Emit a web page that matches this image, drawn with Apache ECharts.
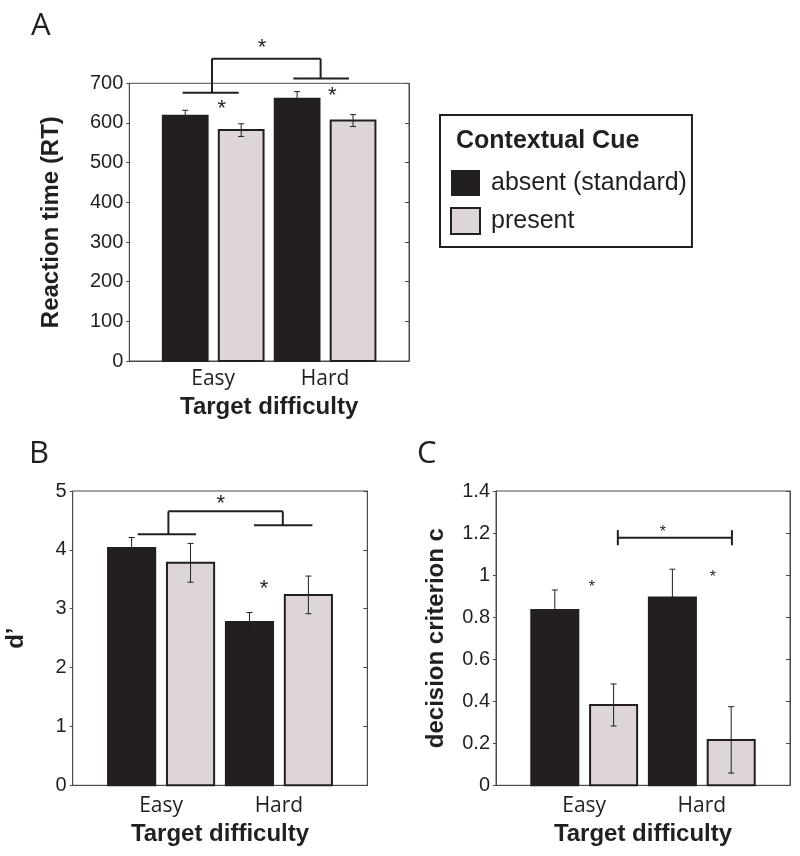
<!DOCTYPE html>
<html><head><meta charset="utf-8">
<script src="https://cdn.jsdelivr.net/npm/echarts@6/dist/echarts.min.js"></script>
<style>html,body{margin:0;padding:0;background:#fff}#c{width:800px;height:856px}</style>
</head><body><div id="c"></div>
<script>
// ---------- data ----------
const categories = ['Easy', 'Hard'];
const seriesNames = ['absent (standard)', 'present'];
const legendTitle = 'Contextual Cue';
const xAxisTitle = 'Target difficulty';

// Panel A: reaction time
const rtTicks = [0, 100, 200, 300, 400, 500, 600, 700];
const rtAbsent = [618, 661];
const rtAbsentErr = [14, 18];
const rtPresent = [582, 606];
const rtPresentErr = [16, 15];
const rtSigLines = [[0.727, 676, 1.228, 676], [1.716, 712, 2.213, 712], [0.989, 676, 0.989, 762], [0.989, 762, 1.960, 762], [1.960, 762, 1.960, 712]];
const rtSigStars = [[1.436, 801], [1.076, 648], [2.064, 681]];

// Panel B: d'
const dTicks = [0, 1, 2, 3, 4, 5];
const dAbsent = [4.03, 2.775];
const dAbsentErr = [0.18, 0.16];
const dPresent = [3.78, 3.235];
const dPresentErr = [0.33, 0.32];
const dSigLines = [[0.802, 4.264, 1.297, 4.264], [1.789, 4.42, 2.284, 4.42], [1.062, 4.264, 1.062, 4.654], [1.062, 4.654, 2.033, 4.654], [2.033, 4.654, 2.033, 4.42]];
const dSigStars = [[1.506, 4.858], [1.874, 3.419]];

// Panel C: decision criterion c
const cTicks = [0, 0.2, 0.4, 0.6, 0.8, 1.0, 1.2, 1.4];
const cAbsent = [0.834, 0.893];
const cAbsentErr = [0.095, 0.135];
const cPresent = [0.382, 0.216];
const cPresentErr = [0.10, 0.158];
const cSigLines = [[1.286, 1.178, 2.256, 1.178], [1.286, 1.142, 1.286, 1.214], [2.256, 1.142, 2.256, 1.214]];
const cSigStars = [[1.668, 1.218], [1.066, 0.958], [2.095, 1.005]];

// ---------- style / layout ----------
const INK = '#231f20';
const GRAY = '#ddd5d6';
const AXIS = '#4a4a4a';
const BAR_HALF = 0.2;
const OFFSETS = [-0.25, 0.25];
const FILLS = [INK, GRAY];
const TICK_FONT = 'Liberation Sans';
const CAT_FONT = 'Open Sans';

const grids = [
  { left: 129.3, top: 83.3, width: 279.7, height: 277.7 },
  { left: 72.7, top: 491, width: 294.6, height: 294.3 },
  { left: 496, top: 491, width: 294, height: 294.3 }
];
const yNames = ['Reaction time (RT)', 'd\u2019', 'decision criterion c'];
const yNameGaps = [66, 44, 48];
const xNameGaps = [34, 37, 37];
const xLabelMargins = [8, 10, 10];
const tickSets = [rtTicks, dTicks, cTicks];
const starSizes = [22, 22, 16];

function toRows(vals, errs) { return vals.map((v, i) => [i + 1, v, errs[i]]); }

function barRenderer(k) {
  return function (params, api) {
    const xc = api.value(0) + OFFSETS[k];
    const v = api.value(1), e = api.value(2);
    const tl = api.coord([xc - BAR_HALF, v]);
    const br = api.coord([xc + BAR_HALF, 0]);
    const et = api.coord([xc, v + e]);
    const eb = api.coord([xc, v - e]);
    const cap = 3;
    return {
      type: 'group', children: [
        { type: 'rect', shape: { x: tl[0], y: tl[1], width: br[0] - tl[0], height: br[1] - tl[1] },
          style: { fill: FILLS[k], stroke: INK, lineWidth: 2 } },
        { type: 'line', shape: { x1: et[0], y1: et[1], x2: eb[0], y2: eb[1] }, style: { stroke: INK, lineWidth: 1 } },
        { type: 'line', shape: { x1: et[0] - cap, y1: et[1], x2: et[0] + cap, y2: et[1] }, style: { stroke: INK, lineWidth: 1 } },
        { type: 'line', shape: { x1: eb[0] - cap, y1: eb[1], x2: eb[0] + cap, y2: eb[1] }, style: { stroke: INK, lineWidth: 1 } }
      ]
    };
  };
}
function lineRenderer(params, api) {
  const a = api.coord([api.value(0), api.value(1)]);
  const b = api.coord([api.value(2), api.value(3)]);
  return { type: 'line', shape: { x1: a[0], y1: a[1], x2: b[0], y2: b[1] }, style: { stroke: INK, lineWidth: 2 } };
}
function starRenderer(size) {
  return function (params, api) {
    const p = api.coord([api.value(0), api.value(1)]);
    return { type: 'text', x: p[0], y: p[1] + size * 0.22,
      style: { text: '*', fill: INK, font: size + 'px "Liberation Sans"', align: 'center', verticalAlign: 'middle' } };
  };
}

const panelData = [
  [toRows(rtAbsent, rtAbsentErr), toRows(rtPresent, rtPresentErr), rtSigLines, rtSigStars],
  [toRows(dAbsent, dAbsentErr), toRows(dPresent, dPresentErr), dSigLines, dSigStars],
  [toRows(cAbsent, cAbsentErr), toRows(cPresent, cPresentErr), cSigLines, cSigStars]
];

const option = {
  animation: false,
  backgroundColor: '#fff',
  grid: grids.map(g => Object.assign({ show: true, borderColor: AXIS, borderWidth: 1, backgroundColor: 'transparent', outerBoundsMode: 'none' }, g)),
  xAxis: grids.map((g, i) => ({
    gridIndex: i, type: 'value', min: 0.25, max: 2.75, interval: 0.25,
    axisLine: { show: true, lineStyle: { color: AXIS, width: 1 } },
    axisTick: { show: false }, splitLine: { show: false },
    axisLabel: {
      margin: xLabelMargins[i], color: INK, fontFamily: CAT_FONT, fontSize: 21,
      showMinLabel: false, showMaxLabel: false,
      formatter: v => (Math.abs(v - Math.round(v)) < 1e-6 && categories[Math.round(v) - 1]) ? categories[Math.round(v) - 1] : ''
    },
    name: xAxisTitle, nameLocation: 'middle', nameGap: xNameGaps[i],
    nameTextStyle: { color: INK, fontFamily: TICK_FONT, fontWeight: 'bold', fontSize: 24 }
  })),
  yAxis: [].concat(
    grids.map((g, i) => {
      const t = tickSets[i];
      return {
        gridIndex: i, type: 'value', min: t[0], max: t[t.length - 1], interval: t[1] - t[0],
        axisLine: { show: true, lineStyle: { color: AXIS, width: 1 } },
        axisTick: { show: true, inside: false, length: 3, lineStyle: { color: AXIS } },
        splitLine: { show: false },
        axisLabel: { margin: 6, color: INK, fontFamily: TICK_FONT, fontSize: 20 },
        name: yNames[i], nameLocation: 'middle', nameGap: yNameGaps[i], nameRotate: 90,
        nameTextStyle: { color: INK, fontFamily: TICK_FONT, fontWeight: 'bold', fontSize: 24 }
      };
    }),
    grids.map((g, i) => {
      const t = tickSets[i];
      return {
        gridIndex: i, type: 'value', position: 'right', min: t[0], max: t[t.length - 1], interval: t[1] - t[0],
        axisLine: { show: true, lineStyle: { color: AXIS, width: 1 } },
        axisTick: { show: true, inside: true, length: 4, lineStyle: { color: AXIS } },
        splitLine: { show: false }, axisLabel: { show: false }
      };
    })
  ),
  title: {
    text: legendTitle, left: 456, top: 129, padding: 0,
    textStyle: { color: INK, fontFamily: TICK_FONT, fontWeight: 'bold', fontSize: 25 }
  },
  legend: {
    orient: 'vertical', left: 440, top: 115,
    padding: [55, 5, 12, 10], itemGap: 11, itemWidth: 29, itemHeight: 26,
    borderColor: INK, borderWidth: 2,
    selectedMode: false,
    textStyle: { color: INK, fontFamily: TICK_FONT, fontSize: 25, padding: [0, 0, 0, 6] },
    data: [
      { name: seriesNames[0], icon: 'rect', itemStyle: { color: INK, borderWidth: 0 } },
      { name: seriesNames[1], icon: 'rect', itemStyle: { color: GRAY, borderColor: INK, borderWidth: 2 } }
    ]
  },
  graphic: [
    { type: 'text', left: 31, top: 11, style: { text: 'A', font: '31px "Open Sans"', fill: INK } },
    { type: 'text', left: 29, top: 439, style: { text: 'B', font: '31px "Open Sans"', fill: INK } },
    { type: 'text', left: 417, top: 439, style: { text: 'C', font: '31px "Open Sans"', fill: INK } }
  ],
  series: []
};

panelData.forEach((pd, i) => {
  [0, 1].forEach(k => {
    option.series.push({
      type: 'custom', name: seriesNames[k], xAxisIndex: i, yAxisIndex: i,
      itemStyle: { color: FILLS[k] }, clip: false,
      encode: { x: 0, y: 1 }, renderItem: barRenderer(k), data: pd[k], z: 2
    });
  });
  option.series.push({
    type: 'custom', name: 'sig-lines-' + i, xAxisIndex: i, yAxisIndex: i, clip: false,
    encode: { x: [0, 2], y: [1, 3] }, renderItem: lineRenderer, data: pd[2], z: 3, silent: true
  });
  option.series.push({
    type: 'custom', name: 'sig-stars-' + i, xAxisIndex: i, yAxisIndex: i, clip: false,
    encode: { x: 0, y: 1 }, renderItem: starRenderer(starSizes[i]), data: pd[3], z: 3, silent: true
  });
});

const chart = echarts.init(document.getElementById('c'), null, { renderer: 'canvas' });
chart.setOption(option);
</script>
</body></html>
